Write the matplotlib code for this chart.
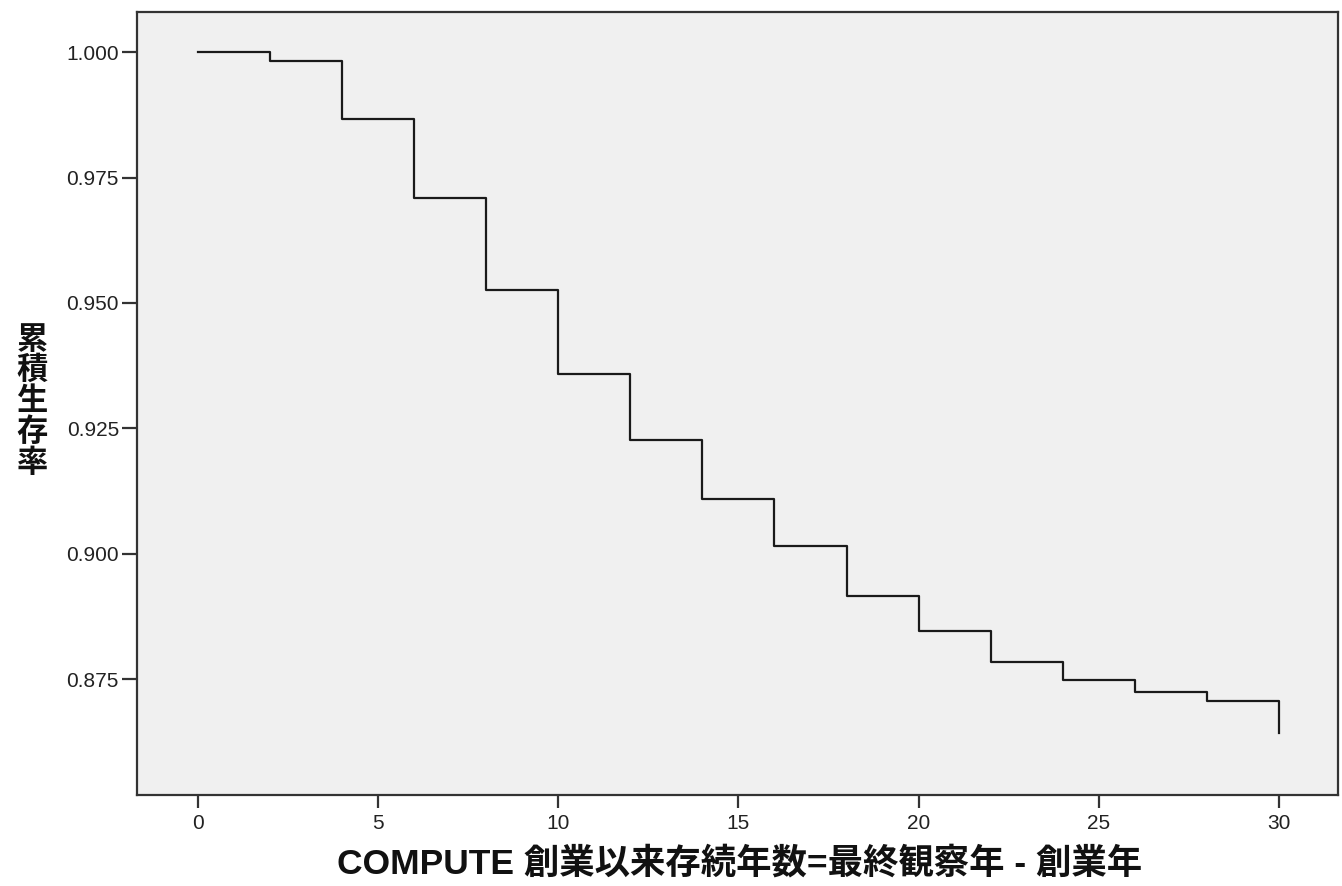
import matplotlib
matplotlib.use("Agg")
import matplotlib.pyplot as plt
from matplotlib.ticker import FormatStrFormatter

# Kaplan-Meier style survival estimate (value holds from each time onward)
times = [0, 2, 4, 6, 8, 10, 12, 14, 16, 18, 20, 22, 24, 26, 28, 30]
survival = [1.000, 0.9982, 0.9866, 0.9710, 0.9526, 0.9358, 0.9227, 0.9110,
            0.9015, 0.8915, 0.8846, 0.8784, 0.8748, 0.8724, 0.8706, 0.8642]

x_ticks = [0, 5, 10, 15, 20, 25, 30]
y_ticks = [0.875, 0.900, 0.925, 0.950, 0.975, 1.000]

x_label = "COMPUTE 創業以来存続年数=最終観察年 - 創業年"
y_label = "累積生存率"

plt.rcParams["font.family"] = ["Liberation Sans", "Noto Sans CJK JP", "DejaVu Sans"]

fig = plt.figure(figsize=(13.42, 8.86), dpi=100)
ax = fig.add_axes([137 / 1342, 1 - 795 / 886, (1338 - 137) / 1342, (795 - 12) / 886])
ax.set_facecolor("#f0f0f0")

ax.step(times, survival, where="post", color="#1a1a1a", linewidth=1.6)

ax.set_xlim(-1.69, 31.64)
ax.set_ylim(0.8519, 1.008)
ax.set_xticks(x_ticks)
ax.set_yticks(y_ticks)
ax.yaxis.set_major_formatter(FormatStrFormatter("%.3f"))

for side in ["left", "right", "top", "bottom"]:
    ax.spines[side].set_linewidth(1.6)
    ax.spines[side].set_color("#333333")

ax.tick_params(axis="both", direction="out", length=10.5, width=1.6,
               color="#333333", labelsize=15, labelcolor="#222222", pad=2.5)
ax.tick_params(axis="x", length=9, pad=5)

# Axis titles
fig.text(740 / 1342, 1 - 864 / 886, x_label,
         family=["Liberation Sans", "Noto Sans CJK JP"], fontweight="bold",
         fontsize=25.5, ha="center", va="center", color="#111111")
fig.text(32 / 1342, 1 - 401 / 886, "\n".join(y_label),
         family=["Noto Sans CJK JP"], fontweight="bold", fontsize=22.5,
         linespacing=0.95, ha="center", va="center", color="#111111")

fig.savefig("out.png", dpi=100)
